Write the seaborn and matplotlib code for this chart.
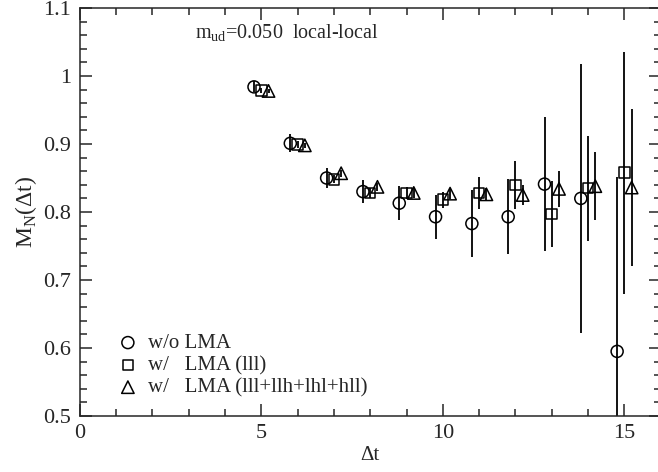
import numpy as np
import pandas as pd
import matplotlib
matplotlib.use("Agg")
import matplotlib.pyplot as plt
from matplotlib.ticker import MultipleLocator
import seaborn as sns

# time separations and nucleon mass for three methods
dt = [5, 6, 7, 8, 9, 10, 11, 12, 13, 14, 15]
m_nolma = [0.984, 0.901, 0.850, 0.830, 0.813, 0.793, 0.783, 0.793, 0.841, 0.820, 0.595]
e_nolma = [0.008, 0.013, 0.014, 0.017, 0.025, 0.032, 0.049, 0.055, 0.098, 0.198, 0.256]
m_lll = [0.979, 0.899, 0.848, 0.828, 0.828, 0.818, 0.828, 0.840, 0.797, 0.835, 0.858]
e_lll = [0.004, 0.005, 0.006, 0.007, 0.009, 0.012, 0.023, 0.035, 0.048, 0.077, 0.178]
m_all = [0.978, 0.898, 0.857, 0.837, 0.828, 0.827, 0.826, 0.825, 0.834, 0.838, 0.836]
e_all = [0.003, 0.004, 0.005, 0.006, 0.007, 0.008, 0.009, 0.015, 0.026, 0.050, 0.115]

labels = ["w/o LMA", "w/   LMA (lll)", "w/   LMA (lll+llh+lhl+hll)"]

sns.set_style("ticks")
plt.rcParams["font.family"] = ["Liberation Serif", "DejaVu Serif"]
plt.rcParams["mathtext.fontset"] = "custom"
plt.rcParams["mathtext.rm"] = "Liberation Serif"

fig = plt.figure(figsize=(6.58, 4.72), dpi=100)
ax = fig.add_axes([79.7 / 658, 56 / 472, 581 / 658, 408 / 472])

# small horizontal shift so the three sets do not overlap
series = [
    (m_nolma, e_nolma, -0.2, "o", 75),
    (m_lll, e_lll, 0.0, "s", 58),
    (m_all, e_all, 0.2, "^", 80),
]
for (m, e, shift, mk, size), lab in zip(series, labels):
    x = np.array(dt) + shift
    ax.errorbar(x, m, yerr=e, fmt="none", ecolor="black", elinewidth=1.3, capsize=0, zorder=2)
    df = pd.DataFrame({"dt": x, "mass": m})
    sns.scatterplot(data=df, x="dt", y="mass", marker=mk, s=size, facecolor="none",
                    edgecolor="black", linewidth=1.1, label=lab, ax=ax, zorder=3)

ax.set_xlim(0, 16)
ax.set_ylim(0.5, 1.1)
ax.xaxis.set_major_locator(MultipleLocator(5))
ax.xaxis.set_minor_locator(MultipleLocator(1))
ax.yaxis.set_major_locator(MultipleLocator(0.1))
ax.yaxis.set_minor_locator(MultipleLocator(0.02))
ax.set_yticks([0.5, 0.6, 0.7, 0.8, 0.9, 1.0, 1.1])
ax.set_yticklabels(["0.5", "0.6", "0.7", "0.8", "0.9", "1", "1.1"])
ax.tick_params(which="both", direction="in", top=True, right=True, width=1.1,
               labelsize=16, pad=6)
ax.tick_params(which="major", length=8.5)
ax.tick_params(which="minor", length=5)
for sp in ax.spines.values():
    sp.set_linewidth(1.1)

ax.set_xlabel("Δt", fontsize=15, labelpad=2)
ax.set_ylabel(r"M$_\mathregular{N}$(Δt)", fontsize=17, labelpad=3)
ax.text(3.18, 1.063, r"m$_\mathregular{ud}$=0.050  local-local", fontsize=14.5, va="center")

ax.legend(loc="lower left", bbox_to_anchor=(0.065, 0.045), frameon=False, fontsize=15,
          handlelength=1.0, handletextpad=0.45, labelspacing=0.13, borderpad=0,
          borderaxespad=0, scatterpoints=1)

fig.savefig("out.png", dpi=100)
